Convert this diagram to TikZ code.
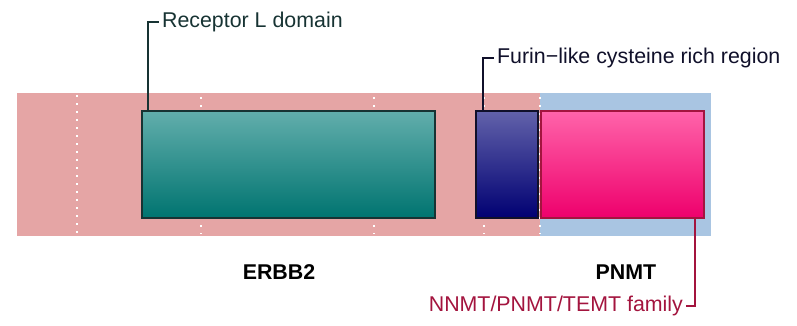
\documentclass[tikz,border=0pt]{standalone}
\usepackage{fontspec}
\setmainfont{Liberation Sans}
\usetikzlibrary{positioning}

\definecolor{bgred}{HTML}{E5A5A5}
\definecolor{bgblue}{HTML}{A9C5E2}
\definecolor{tealtop}{HTML}{62AEAC}
\definecolor{tealbot}{HTML}{007470}
\definecolor{tealline}{HTML}{173333}
\definecolor{navytop}{HTML}{6262AA}
\definecolor{navybot}{HTML}{000072}
\definecolor{navyline}{HTML}{10102A}
\definecolor{pinktop}{HTML}{FF64AA}
\definecolor{pinkbot}{HTML}{EE006C}
\definecolor{pinkline}{HTML}{A3143E}

\begin{document}
\begin{tikzpicture}[x=0.025cm,y=-0.025cm,
    font=\fontsize{15.2}{18}\selectfont,
    domainbox/.style={draw,line width=1.2pt,inner sep=0pt,anchor=north west},
    sep/.style={white,line width=1.1pt,dash pattern=on 1.1pt off 4.6pt},
    leader/.style={line width=1.4pt},
    gene/.style={font=\fontsize{15.2}{18}\selectfont\bfseries}]
    \useasboundingbox (0,0) rectangle (797,326);
    % background tracks
    \fill[bgred] (17,93) rectangle (540,236);
    \fill[bgblue] (540,93) rectangle (711,236);
    \draw[sep] (77,95) -- (77,234);
    \draw[sep] (201,97) -- (201,234);
    \draw[sep] (374,97) -- (374,234);
    \draw[sep] (484,97) -- (484,234);
    \draw[sep] (540,97) -- (540,234);
    % domains
    \node[domainbox,draw=tealline,top color=tealtop,bottom color=tealbot,
        minimum width=293*0.025cm,minimum height=107*0.025cm] (ldom) at (141,110) {};
    \node[domainbox,draw=navyline,top color=navytop,bottom color=navybot,
        minimum width=62*0.025cm,minimum height=107*0.025cm] (furin) at (475,110) {};
    \node[domainbox,draw=pinkline,top color=pinktop,bottom color=pinkbot,
        minimum width=163*0.025cm,minimum height=107*0.025cm] (nnmt) at (540,110) {};
    % labels
    \node[anchor=west,inner sep=2pt,text=tealline] (ltext) at (159,22) {Receptor L domain};
    \node[anchor=west,inner sep=2pt,text=navyline] (ftext) at (494,58) {Furin−like cysteine rich region};
    \node[anchor=east,inner sep=2pt,text=pinkline] (ntext) at (686,306) {NNMT/PNMT/TEMT family};
    \coordinate (lfoot) at (148,110);
    \coordinate (ffoot) at (483,110);
    \coordinate (nfoot) at (695,217);
    \draw[leader,tealline] (lfoot) |- (ltext.west);
    \draw[leader,navyline] (ffoot) |- (ftext.west);
    \draw[leader,pinkline] (nfoot) |- (ntext.east);
    \node[gene] (erbb) at (279,272) {ERBB2};
    \node[gene] (pnmt) at (626,272) {PNMT};
\end{tikzpicture}
\end{document}
